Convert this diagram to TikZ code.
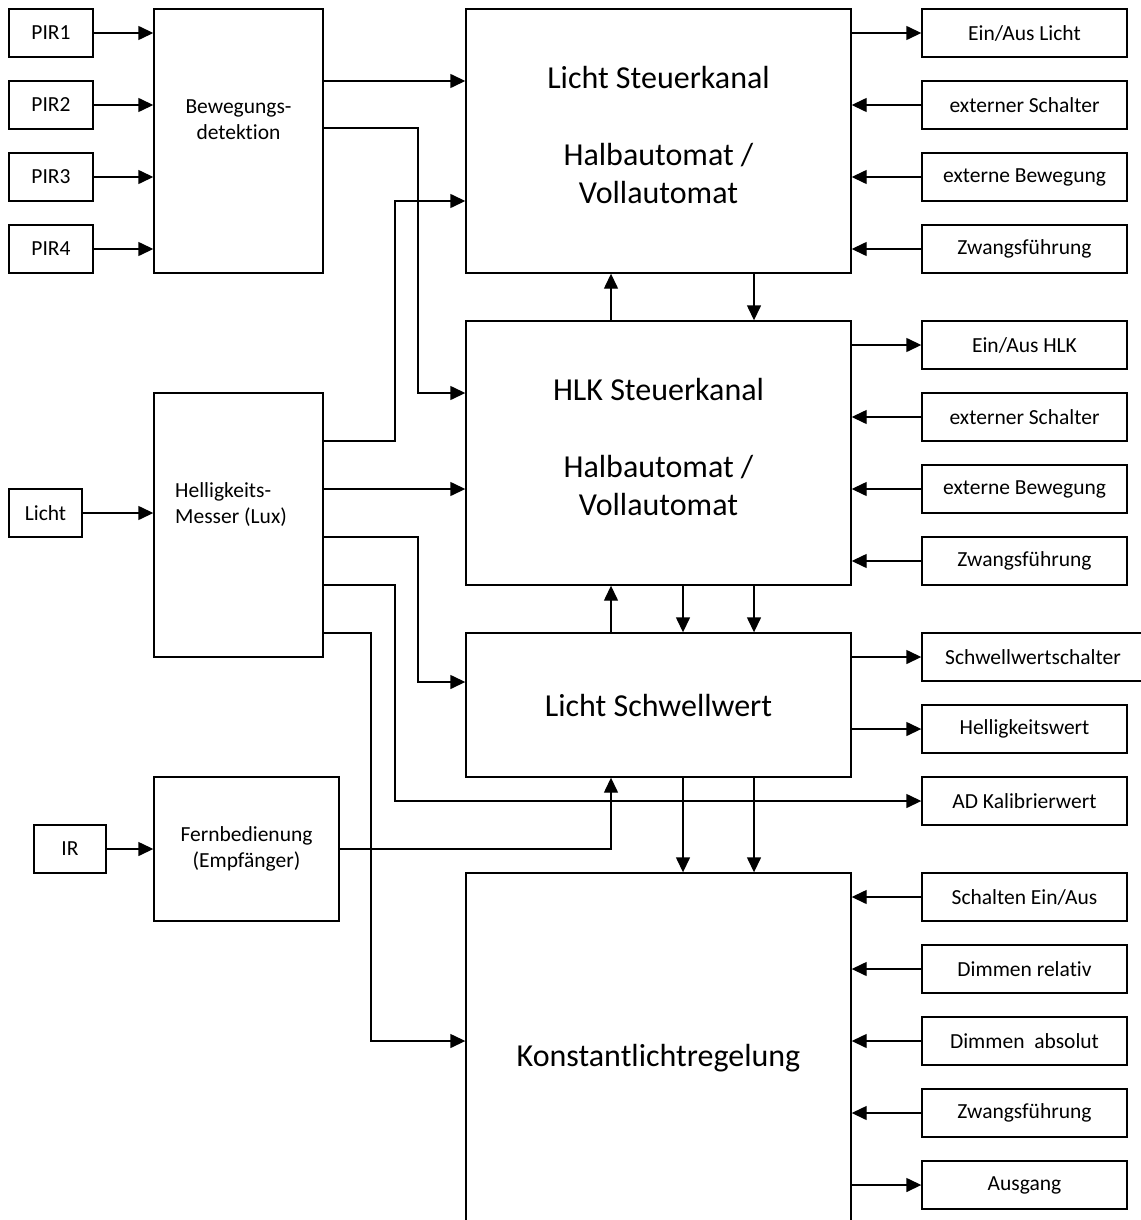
\documentclass[tikz,border=0pt]{standalone}
\usepackage{fontspec}
\setmainfont{Carlito}[Ligatures=NoCommon]
\usetikzlibrary{arrows.meta, positioning, calc}

\tikzset{
  box/.style={draw, line width=1.4pt, inner sep=0pt, align=center,
    font=\fontsize{21.5}{26}\selectfont},
  bigbox/.style={box, minimum width=385pt, font=\fontsize{32}{38.5}\selectfont},
  iobox/.style={box, minimum width=205pt, minimum height=48pt},
  txt/.style={inner sep=0pt, font=\fontsize{21.5}{26}\selectfont},
  bigtxt/.style={inner sep=0pt, align=center, font=\fontsize{32}{38.5}\selectfont},
  sig/.style={line width=1.4pt, -{Triangle[length=15pt,width=14pt]}},
}

\begin{document}
\begin{tikzpicture}[x=1pt, y=-1pt]
\useasboundingbox (0,0) rectangle (1140,1220);
% Sensors
\node[box, minimum width=84pt, minimum height=48pt] (pir1) at (51,33) {PIR1};
\node[box, minimum width=84pt, minimum height=48pt] (pir2) at (51,105) {PIR2};
\node[box, minimum width=84pt, minimum height=48pt] (pir3) at (51,177) {PIR3};
\node[box, minimum width=84pt, minimum height=48pt] (pir4) at (51,249) {PIR4};
\node[box, minimum width=73pt, minimum height=48pt] (licht) at (45.5,513) {Licht};
\node[box, minimum width=72pt, minimum height=48pt] (ir) at (70,849) {IR};
% Preprocessing
\node[box, minimum width=169pt, minimum height=264pt] (bew) at (238.5,141) {};
\node[txt, align=center] (bewtxt) at (238.5,120) {Bewegungs-\\detektion};
\node[box, minimum width=169pt, minimum height=264pt] (hell) at (238.5,525) {};
\node[txt, align=left, anchor=west] (helltxt) at (175,505) {Helligkeits-\\Messer (Lux)};
\node[box, minimum width=185pt, minimum height=144pt] (fern) at (246.5,849) {Fernbedienung\\(Empf\"anger)};
% Channels
\node[bigbox, minimum height=264pt] (lsk) at (658.5,141) {};
\node[bigtxt] (lsktxt) at ($(lsk.center)+(0,-6)$)
  {Licht Steuerkanal\\[38.5pt]Halbautomat /\\Vollautomat};
\node[bigbox, minimum height=264pt] (hlk) at (658.5,453) {};
\node[bigtxt] (hlktxt) at ($(hlk.center)+(0,-6)$)
  {HLK Steuerkanal\\[38.5pt]Halbautomat /\\Vollautomat};
\node[bigbox, minimum height=144pt] (lsw) at (658.5,705) {Licht Schwellwert};
\node[bigbox, minimum height=370pt] (klr) at (658.5,1058) {Konstantlichtregelung};
% Inputs and outputs on the right
\node[iobox] (ealicht) at (1024.5,33) {Ein/Aus Licht};
\node[iobox] (exs1) at (1024.5,105) {externer Schalter};
\node[iobox] (exb1) at (1024.5,177) {externe Bewegung};
\node[iobox] (zwf1) at (1024.5,249) {Zwangsführung};
\node[iobox] (eahlk) at (1024.5,345) {Ein/Aus HLK};
\node[iobox] (exs2) at (1024.5,417) {externer Schalter};
\node[iobox] (exb2) at (1024.5,489) {externe Bewegung};
\node[iobox] (zwf2) at (1024.5,561) {Zwangsführung};
\node[iobox, minimum width=222pt] (swsch) at (1033,657) {Schwellwertschalter};
\node[iobox] (hwert) at (1024.5,729) {Helligkeitswert};
\node[iobox] (adkal) at (1024.5,801) {AD Kalibrierwert};
\node[iobox] (schalt) at (1024.5,897) {Schalten Ein/Aus};
\node[iobox] (dimrel) at (1024.5,969) {Dimmen relativ};
\node[iobox] (dimabs) at (1024.5,1041) {Dimmen\ \ absolut};
\node[iobox] (zwf3) at (1024.5,1113) {Zwangsführung};
\node[iobox] (ausg) at (1024.5,1185) {Ausgang};
% Sensor inputs
\draw[sig] (pir1) -- (pir1 -| bew.west);
\draw[sig] (pir2) -- (pir2 -| bew.west);
\draw[sig] (pir3) -- (pir3 -| bew.west);
\draw[sig] (pir4) -- (pir4 -| bew.west);
\draw[sig] (licht) -- (licht -| hell.west);
\draw[sig] (ir) -- (ir -| fern.west);
% Bewegungsdetektion to channels
\draw[sig] (bew.east |- 0,81) -- (lsk.west |- 0,81);
\draw[sig] (bew.east |- 0,128) -| (418,393) -- (hlk.west |- 0,393);
% Helligkeitsmesser wires
\draw[sig] (hell.east |- 0,441) -| (395,201) -- (lsk.west |- 0,201);
\draw[sig] (hell.east |- 0,489) -- (hlk.west |- 0,489);
\draw[sig] (hell.east |- 0,537) -| (418,682) -- (lsw.west |- 0,682);
\draw[sig] (hell.east |- 0,585) -| (395,801) -- (adkal.west);
\draw[sig] (hell.east |- 0,633) -| (371,1041) -- (klr.west |- 0,1041);
% Fernbedienung
\draw[sig] (fern.east) -| (611,0 |- lsw.south);
% Between channels
\draw[sig] (hlk.north -| 611,0) -- (lsk.south -| 611,0);
\draw[sig] (lsk.south -| 754,0) -- (hlk.north -| 754,0);
\draw[sig] (lsw.north -| 611,0) -- (hlk.south -| 611,0);
\draw[sig] (hlk.south -| 683,0) -- (lsw.north -| 683,0);
\draw[sig] (hlk.south -| 754,0) -- (lsw.north -| 754,0);
\draw[sig] (lsw.south -| 683,0) -- (klr.north -| 683,0);
\draw[sig] (lsw.south -| 754,0) -- (klr.north -| 754,0);
% Right side
\draw[sig] (lsk.east |- ealicht) -- (ealicht);
\draw[sig] (exs1) -- (exs1 -| lsk.east);
\draw[sig] (exb1) -- (exb1 -| lsk.east);
\draw[sig] (zwf1) -- (zwf1 -| lsk.east);
\draw[sig] (hlk.east |- eahlk) -- (eahlk);
\draw[sig] (exs2) -- (exs2 -| hlk.east);
\draw[sig] (exb2) -- (exb2 -| hlk.east);
\draw[sig] (zwf2) -- (zwf2 -| hlk.east);
\draw[sig] (lsw.east |- swsch) -- (swsch);
\draw[sig] (lsw.east |- hwert) -- (hwert);
\draw[sig] (schalt) -- (schalt -| klr.east);
\draw[sig] (dimrel) -- (dimrel -| klr.east);
\draw[sig] (dimabs) -- (dimabs -| klr.east);
\draw[sig] (zwf3) -- (zwf3 -| klr.east);
\draw[sig] (klr.east |- ausg) -- (ausg);
\end{tikzpicture}
\end{document}
